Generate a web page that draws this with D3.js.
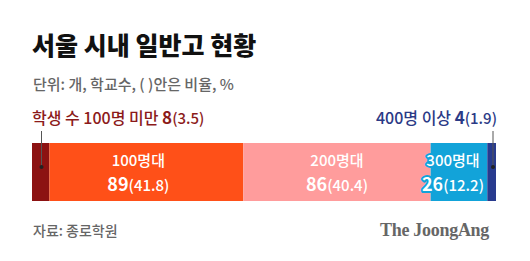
<!DOCTYPE html>
<html>
<head>
<meta charset="utf-8">
<script src="https://cdn.jsdelivr.net/npm/d3@7"></script>
<style>
  body { margin: 0; background: #fff; }
  svg { display: block; font-family: "Noto Sans CJK KR", "Noto Sans", sans-serif; }
</style>
</head>
<body>
<div id="chart"></div>
<script>
// Données
const categories = ['100명 미만', '100명대', '200명대', '300명대', '400명 이상'];
const counts = [8, 89, 86, 26, 4];
const ratios = ['3.5', '41.8', '40.4', '12.2', '1.9'];
const colors = ['#8c1212', '#ff5018', '#ff9c9c', '#12a3d9', '#283b8e'];

const width = 530, height = 261;
const barTop = 143, barH = 58;

const svg = d3.select('#chart').append('svg')
    .attr('width', width)
    .attr('height', height);

// Titre
svg.append('text')
    .attr('x', 32).attr('y', 55)
    .attr('font-size', 25).attr('font-weight', 900)
    .attr('fill', '#111')
    .text('서울 시내 일반고 현황');

svg.append('text')
    .attr('x', 33).attr('y', 90)
    .attr('font-size', 15)
    .attr('font-weight', 500)
    .attr('fill', '#666')
    .text('단위: 개, 학교수, ( )안은 비율, %');

// Echelle
const total = d3.sum(counts);
const starts = d3.cumsum([0, ...counts]);
const x = d3.scaleLinear().domain([0, total]).range([32, 496]);

const segs = categories.map((c, i) => ({
    cat: c, count: counts[i], ratio: ratios[i], color: colors[i],
    x0: x(starts[i]), x1: x(starts[i] + counts[i])
}));

svg.selectAll('rect.seg')
    .data(segs)
    .join('rect')
    .attr('class', 'seg')
    .attr('x', d => d.x0)
    .attr('y', barTop)
    .attr('width', d => d.x1 - d.x0)
    .attr('height', barH)
    .attr('fill', d => d.color);

// Etiquettes internes (100명대, 200명대, 300명대)
const inner = segs.slice(1, 4);
const shift = [-8, 0, -6];
svg.selectAll('text.lbl')
    .data(inner)
    .join('text')
    .attr('class', 'lbl')
    .attr('text-anchor', 'middle')
    .attr('font-weight', 500)
    .attr('fill', '#fff')
    .each(function (d, i) {
        const t = d3.select(this);
        const cx = (d.x0 + d.x1) / 2 + shift[i];
        t.append('tspan').attr('x', cx).attr('y', 166)
            .attr('font-size', 15).text(d.cat);
        t.append('tspan').attr('x', cx).attr('y', 191)
            .attr('font-size', 18).attr('font-weight', 700).text(d.count);
        t.append('tspan').attr('font-size', 15).text(`(${d.ratio})`);
        if (i === 2) {
            t.attr('stroke', d.color)
                .attr('stroke-width', 4)
                .attr('stroke-linejoin', 'round')
                .attr('paint-order', 'stroke');
        }
    });

// Etiquettes externes avec traits
const first = segs[0], last = segs[4];
[41.5, 493].forEach(lx => {
    svg.append('line')
        .attr('x1', lx).attr('x2', lx)
        .attr('y1', 131).attr('y2', 167)
        .attr('stroke', '#555').attr('stroke-width', 1);
    svg.append('circle')
        .attr('cx', lx).attr('cy', 167).attr('r', 2)
        .attr('fill', '#222');
});

const l1 = svg.append('text')
    .attr('x', 32).attr('y', 124)
    .attr('font-size', 16)
    .attr('font-weight', 500)
    .attr('fill', '#8c1a1a');
l1.append('tspan').text('학생 수 ' + first.cat + ' ');
l1.append('tspan').attr('font-weight', 700).attr('font-size', 17).text(first.count);
l1.append('tspan').attr('font-size', 15).text(`(${first.ratio})`);

const l2 = svg.append('text')
    .attr('x', 497).attr('y', 124)
    .attr('text-anchor', 'end')
    .attr('font-size', 16)
    .attr('font-weight', 500)
    .attr('fill', '#2b3a86');
l2.append('tspan').text(last.cat + ' ');
l2.append('tspan').attr('font-weight', 700).attr('font-size', 17).text(last.count);
l2.append('tspan').attr('font-size', 15).text(`(${last.ratio})`);

// Source
svg.append('text')
    .attr('x', 33).attr('y', 236)
    .attr('font-size', 14)
    .attr('font-weight', 500)
    .attr('fill', '#666')
    .text('자료: 종로학원');

svg.append('text')
    .attr('x', 489).attr('y', 236)
    .attr('text-anchor', 'end')
    .attr('font-family', '"Liberation Serif", "DejaVu Serif", serif')
    .attr('font-weight', 700)
    .attr('font-size', 18)
    .attr('fill', '#666')
    .attr('letter-spacing', -0.3)
    .text('The JoongAng');
</script>
</body>
</html>
